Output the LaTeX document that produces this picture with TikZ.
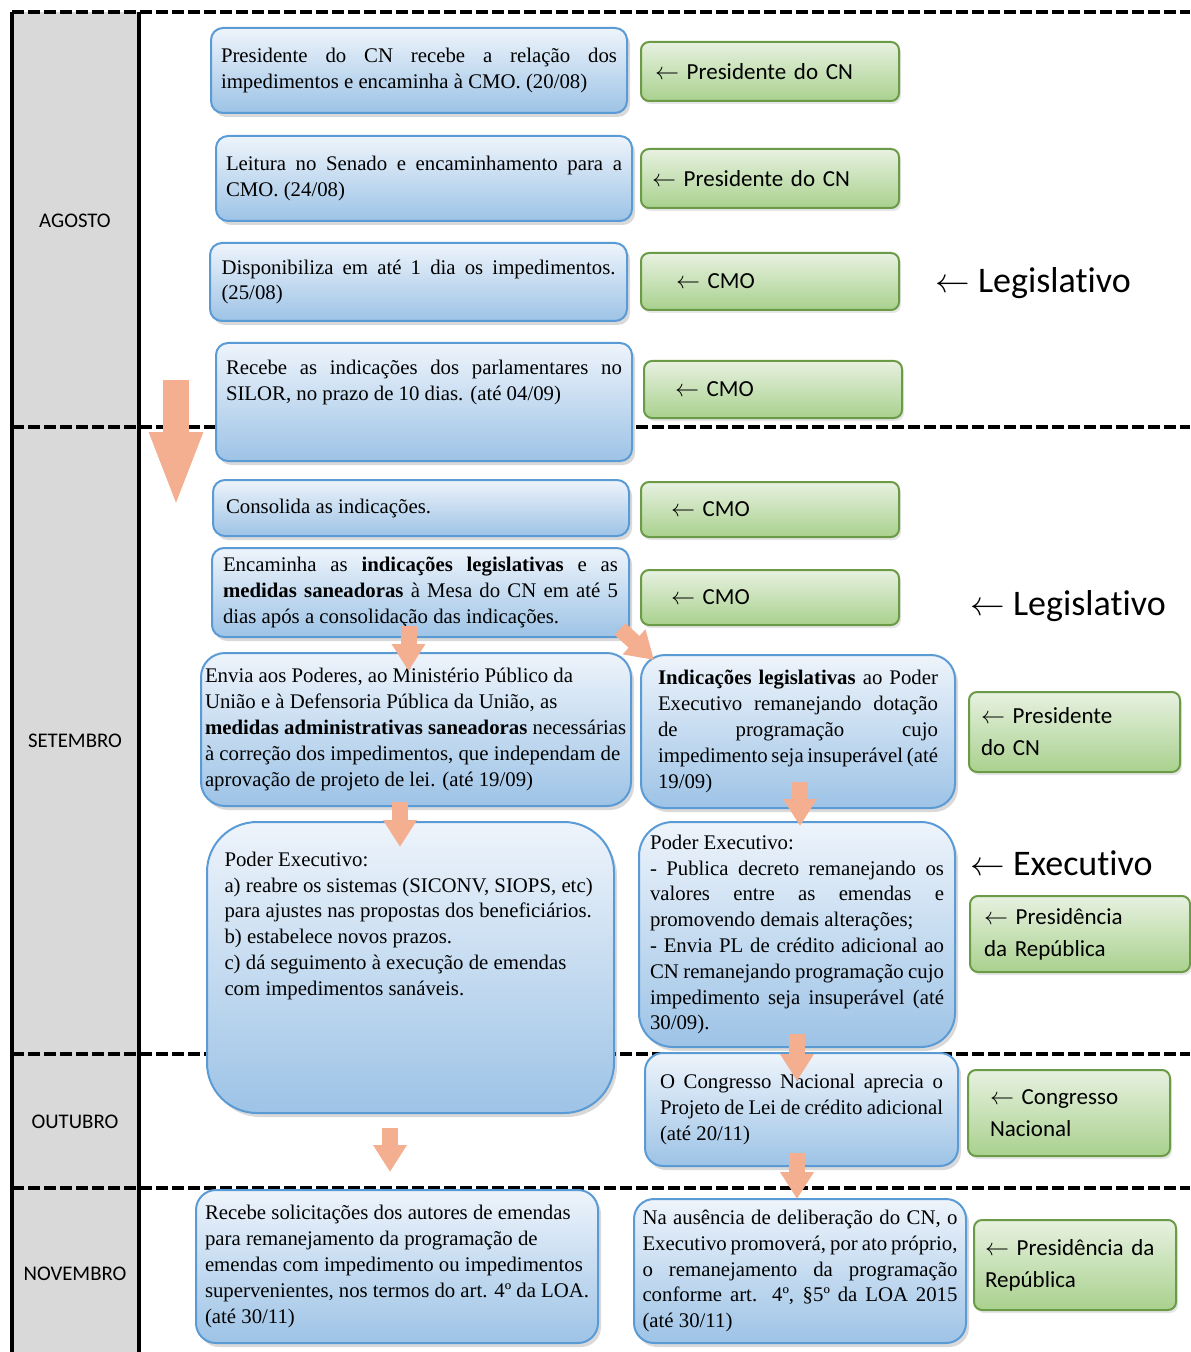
\documentclass[tikz,border=0pt]{standalone}
\usepackage{fontspec}
\setmainfont{Liberation Serif}
\newfontfamily\carlito[Ligatures=NoCommon]{Carlito}
\usetikzlibrary{positioning}
\usetikzlibrary{arrows.meta}
\usetikzlibrary{calc}
\usetikzlibrary{shadows}
\definecolor{boxtop}{HTML}{EEF4FB}
\definecolor{boxbot}{HTML}{9DC3E6}
\definecolor{boxline}{HTML}{5B9BD5}
\definecolor{greentop}{HTML}{E7F1E0}
\definecolor{greenbot}{HTML}{A9D18E}
\definecolor{greenline}{HTML}{6B9B47}
\definecolor{flowc}{HTML}{F4AF90}
\definecolor{monthcol}{HTML}{D9D9D9}
\hyphenpenalty=10000\relax
\tolerance=9999\relax
\newcommand{\larr}{$\leftarrow$}

\begin{document}
\begin{tikzpicture}[
        x=0.5pt, y=-0.5pt,
        bluebox/.style = {draw=boxline, line width=1pt, top color=boxtop, bottom color=boxbot, rounded corners=6pt, inner sep=2pt,
            font=\fontsize{10.4}{12.9}\selectfont, align=justify,
            drop shadow={shadow xshift=1.5pt, shadow yshift=-2pt, opacity=.3}},
        greenbox/.style = {draw=greenline, line width=1pt, top color=greentop, bottom color=greenbot, rounded corners=4pt, inner sep=2pt,
            font=\carlito\fontsize{11.5}{16}\selectfont, align=left,
            drop shadow={shadow xshift=1pt, shadow yshift=-1.5pt, opacity=.2}},
        month/.style = {font=\carlito\fontsize{10.4}{12}\selectfont},
        power/.style = {font=\carlito\fontsize{18}{22}\selectfont, anchor=base west, inner sep=0pt},
        flow/.style = {draw=flowc, line width=8pt, -{Triangle[width=16pt,length=13.5pt]}},
        bigflow/.style = {draw=flowc, line width=13pt, -{Triangle[width=24pt,length=38pt]}},
        monthline/.style = {line width=2pt, dash pattern=on 6pt off 2pt}
    ]
    \useasboundingbox (0,0) rectangle (1190,1352);
    % months column
    \fill[monthcol] (12,12) rectangle (139,1352);
    \draw[line width=2.4pt] (12,12) -- (12,1352);
    \draw[line width=2.4pt] (139,12) -- (139,1352);
    \foreach \y in {12,427,1054,1188}
        \draw[monthline] (12,\y) -- (1190,\y);
    \node[month] (ago) at (75,221) {AGOSTO};
    \node[month] (set) at (75,741) {SETEMBRO};
    \node[month] (out) at (75,1122) {OUTUBRO};
    \node[month] (nov) at (75,1274) {NOVEMBRO};

    % steps
    \node[bluebox, minimum width=208pt, minimum height=42.5pt, text width=198pt] (b1) at (419,70.5)
        {Presidente do CN recebe a relação dos\linebreak impedimentos e encaminha à CMO. (20/08)};
    \node[bluebox, minimum width=208pt, minimum height=42.5pt, text width=198pt] (b2) at (424,178.5)
        {Leitura no Senado e encaminhamento para a\linebreak CMO. (24/08)};
    \node[bluebox, minimum width=208.5pt, minimum height=39pt, text width=197pt] (b3) at (418.5,282)
        {Disponibiliza em até 1 dia os impedimentos.\linebreak (25/08)};
    \node[bluebox, minimum width=208pt, minimum height=59pt, text width=198pt] (b4) at (424,402)
        {Recebe as indicações dos parlamentares no\linebreak SILOR, no prazo de 10 dias. (até 04/09)\rule[-22pt]{0pt}{0pt}};
    \node[bluebox, minimum width=208pt, minimum height=28pt, text width=195pt] (b5) at (421,508)
        {Consolida as indicações.};
    \node[bluebox, minimum width=208.5pt, minimum height=44.5pt, text width=197.5pt] (b6) at (420.5,592.5)
        {Encaminha as \textbf{indicações legislativas} e as\linebreak \textbf{medidas saneadoras} à Mesa do CN em até 5\linebreak dias após a consolidação das indicações.};
    \node[bluebox, rounded corners=12pt, align=flush left, minimum width=215pt, minimum height=76.5pt, text width=211pt] (b7) at (416,729.5)
        {Envia aos Poderes, ao Ministério Público da\\ União e à Defensoria Pública da União, as\\ \textbf{medidas administrativas saneadoras} necessárias\\ à correção dos impedimentos, que independam de\\ aprovação de projeto de lei. (até 19/09)};
    \node[bluebox, rounded corners=12pt, minimum width=157pt, minimum height=76.5pt, text width=140pt] (b8) at (798,731.5)
        {\textbf{Indicações legislativas} ao Poder\linebreak Executivo remanejando dotação\linebreak de programação cujo\linebreak impedimento seja insuperável (até\linebreak 19/09)};
    \node[bluebox, rounded corners=25pt, align=flush left, minimum width=203.5pt, minimum height=145.5pt, text width=186pt] (b9) at (410.5,967.5)
        {Poder Executivo:\\ a) reabre os sistemas (SICONV, SIOPS, etc)\\ para ajustes nas propostas dos beneficiários.\\ b) estabelece novos prazos.\\ c) dá seguimento à execução de emendas\\ com impedimentos sanáveis.\rule[-44pt]{0pt}{0pt}};
    \node[bluebox, rounded corners=17pt, minimum width=158pt, minimum height=112.5pt, text width=147pt] (b10) at (797,934.5)
        {Poder Executivo:\\ - Publica decreto remanejando os\linebreak valores entre as emendas e\linebreak promovendo demais alterações;\\ - Envia PL de crédito adicional ao\linebreak CN remanejando programação cujo\linebreak impedimento seja insuperável (até\linebreak 30/09).};
    \node[bluebox, rounded corners=9pt, minimum width=156.5pt, minimum height=56.5pt, text width=141.5pt] (b11) at (801.5,1109.5)
        {O Congresso Nacional aprecia o\linebreak Projeto de Lei de crédito adicional\linebreak (até 20/11)};
    \node[bluebox, rounded corners=10pt, align=flush left, minimum width=201pt, minimum height=76.5pt, text width=192pt] (b12) at (397,1266.5)
        {Recebe solicitações dos autores de emendas\\ para remanejamento da programação de\\ emendas com impedimento ou impedimentos\\ supervenientes, nos termos do art. 4º da LOA.\\ (até 30/11)};
    \node[bluebox, rounded corners=10pt, minimum width=166pt, minimum height=72pt, text width=157.5pt] (b13) at (800,1271)
        {Na ausência de deliberação do CN, o\linebreak Executivo promoverá, por ato próprio,\linebreak o remanejamento da programação\linebreak conforme art. 4º, §5º da LOA 2015\linebreak (até 30/11)};

    % who does it
    \node[greenbox, minimum width=129pt, minimum height=29.5pt, text width=115pt] (g1) at (770,71.5) {\larr\ Presidente do CN};
    \node[greenbox, minimum width=129pt, minimum height=29.5pt, text width=118pt] (g2) at (770,178.5) {\larr\ Presidente do CN};
    \node[greenbox, minimum width=129pt, minimum height=28.5pt, text width=94pt] (g3) at (770,281.5) {\larr\ CMO};
    \node[greenbox, minimum width=129pt, minimum height=28.5pt, text width=98pt] (g4) at (773,389.5) {\larr\ CMO};
    \node[greenbox, minimum width=129pt, minimum height=27.5pt, text width=99pt] (g5) at (770,509.5) {\larr\ CMO};
    \node[greenbox, minimum width=129pt, minimum height=27.5pt, text width=99pt] (g6) at (770,597.5) {\larr\ CMO};
    \node[greenbox, minimum width=105.5pt, minimum height=40pt, text width=93.5pt] (g7) at (1074.5,732) {\larr\ Presidente\\ do CN};
    \node[greenbox, minimum width=110pt, minimum height=38pt, text width=96pt] (g8) at (1080,934) {\larr\ Presidência\\ da República};
    \node[greenbox, minimum width=101pt, minimum height=43pt, text width=79pt] (g9) at (1069,1113) {\larr\ Congresso\\ Nacional};
    \node[greenbox, minimum width=101pt, minimum height=45pt, text width=90pt] (g10) at (1075,1265) {\larr\ Presidência da\\ República};

    \node[power] (leg1) at (935,293) {\larr\ Legislativo};
    \node[power] (leg2) at (970,615) {\larr\ Legislativo};
    \node[power] (exe) at (970,875) {\larr\ Executivo};

    % flow arrows
    \coordinate (a1s) at (176,380);
    \coordinate (a1e) at (176,508);
    \draw[bigflow] (a1s) -- (a1e);
    \coordinate (a2) at ($(b6.south)+(-12,-12)$);
    \draw[flow] (a2) -- ([yshift=-9.5pt]a2 |- b7.north);
    \coordinate (a3) at ($(b6.south east)+(-10,-9)$);
    \draw[flow] (a3) -- ($(b8.north west)+(14,6)$);
    \coordinate (a4) at ($(b7.south)+(-16,-5)$);
    \draw[flow] (a4) -- ([yshift=-13pt]a4 |- b9.north);
    \coordinate (a5) at ($(b8.south)+(2,-27)$);
    \draw[flow] (a5) -- ([yshift=-2.5pt]a5 |- b10.north);
    \coordinate (a6) at ($(b10.south)+(0,-14)$);
    \draw[flow] (a6) -- ([yshift=-14.5pt]a6 |- b11.north);
    \coordinate (a7) at ($(b9.south)+(-20.5,14)$);
    \draw[flow] (a7) -- ([yshift=8.5pt]a7 |- b12.north);
    \coordinate (a8) at ($(b11.south)+(-4.5,-14)$);
    \draw[flow] (a8) -- ([yshift=-0.5pt]a8 |- b13.north);
\end{tikzpicture}
\end{document}
